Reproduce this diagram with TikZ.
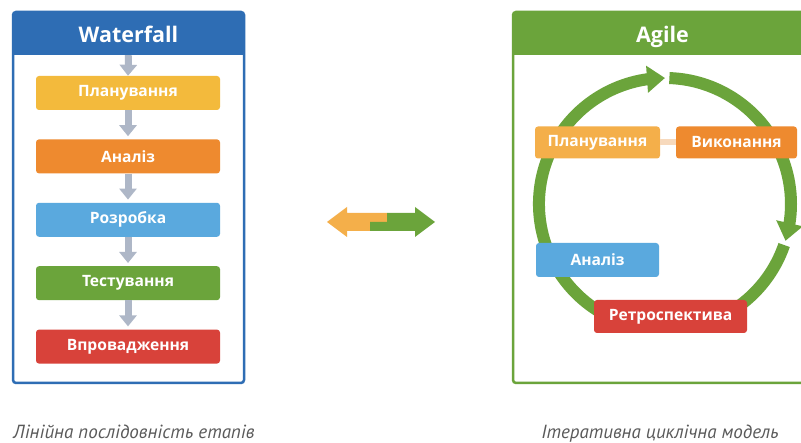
\documentclass[tikz,border=0pt]{standalone}
\usepackage{fontspec}
\setmainfont{Open Sans}
\newfontfamily\capfont{PT Sans}
\usetikzlibrary{arrows.meta, bending, positioning}
\definecolor{cblue}{HTML}{2E6DB4}
\definecolor{cyellow}{HTML}{F3BA3C}
\definecolor{corange}{HTML}{EE8A2F}
\definecolor{clight}{HTML}{5AA9DE}
\definecolor{cgreen}{HTML}{6BA43B}
\definecolor{cred}{HTML}{D8423A}
\definecolor{camber}{HTML}{F4AF4A}
\definecolor{cpeach}{HTML}{F7D9BC}
\definecolor{cgray}{HTML}{AEB7C7}
\definecolor{ctext}{HTML}{5A5A5A}

\tikzset{
  stage/.style={rounded corners=3pt, minimum width=184pt, minimum height=34pt,
    inner sep=0pt, text=white, font=\bfseries\fontsize{15.6}{18}\selectfont},
  phase/.style={stage, minimum width=123pt, minimum height=33pt},
  header/.style={minimum height=43pt, inner sep=0pt, text=white,
    text height=21pt, text depth=3pt, font=\bfseries\fontsize{21.5}{24}\selectfont},
  flow/.style={draw=cgray, line width=7pt, -{Triangle[width=17pt,length=11pt]}},
  looparc/.style={draw=cgreen, line width=12pt, -{Triangle[width=26pt,length=18pt]}},
  caption/.style={anchor=base, text=ctext, font=\capfont\itshape\fontsize{19}{22}\selectfont}
}

\begin{document}
\begin{tikzpicture}[x=1pt, y=1pt]
\fill[white] (0,0) rectangle (801,443);
\useasboundingbox (0,0) rectangle (801,443);
\clip (0,0) rectangle (801,443);

% ---------------- Waterfall column ----------------
\node[header, fill=cblue, minimum width=231pt] (wfhead) at (128.5,409.5) {Waterfall};
\draw[cblue, line width=2.5pt, rounded corners=3pt] (13,60) rectangle (244,431);

\node[stage, fill=cyellow] (wplan) at (128,350) {Планування};
\node[stage, fill=corange, below=29pt of wplan] (wanal) {Аналіз};
\node[stage, fill=clight, below=29pt of wanal] (wdev) {Розробка};
\node[stage, fill=cgreen, below=29pt of wdev] (wtest) {Тестування};
\node[stage, fill=cred, below=29pt of wtest] (wdeploy) {Впровадження};

% grey arrows down the chain
\draw[flow] (wfhead.south) -- (wplan.north);
\foreach \a/\b in {wplan/wanal, wanal/wdev, wdev/wtest, wtest/wdeploy}
  \draw[flow, shorten >=3pt] (\a.south) -- (\b.north);

% ---------------- two-way arrow in between ----------------
\fill[camber] (327,221) -- (347,236) -- (347,230) -- (387,230) -- (387,221)
  -- (370,221) -- (370,212) -- (347,212) -- (347,206) -- cycle;
\fill[cgreen] (435,221) -- (415,236) -- (415,230) -- (387,230) -- (387,221)
  -- (370,221) -- (370,212) -- (415,212) -- (415,206) -- cycle;

% ---------------- Agile column ----------------
\node[header, fill=cgreen, minimum width=299pt] (aghead) at (662.5,409.5) {Agile};
\draw[cgreen, line width=2.5pt, rounded corners=3pt] (513,60) rectangle (812,431);

% cycle ring, centre (665,239), r = 126
\coordinate (ring) at (665,239);
\draw[looparc] ([shift={(250:126)}]ring) arc (250:90:126);
\draw[looparc] ([shift={(88:126)}]ring) arc (88:-17:126);
\draw[cgreen, line width=12pt] ([shift={(-19:126)}]ring) arc (-19:-70:126);

\node[phase, fill=camber, minimum width=125pt, minimum height=32pt] (aplan) at (597.5,300.5) {Планування};
\node[phase, fill=corange, minimum width=121pt, minimum height=32pt] (aexec) at (736.5,300.5) {Виконання};
\node[phase, fill=clight, minimum height=34pt] (aanal) at (597.5,183) {Аналіз};
\node[phase, fill=cred, minimum width=153pt] (aretro) at (670.5,126.5) {Ретроспектива};
\draw[cpeach, line width=6pt] (aplan.east) -- (aexec.west);

% ---------------- captions ----------------
\node[caption] (wcap) at (134,4) {Лінійна послідовність етапів};
\node[caption] (acap) at (660,4) {Ітеративна циклічна модель};

\end{tikzpicture}
\end{document}
